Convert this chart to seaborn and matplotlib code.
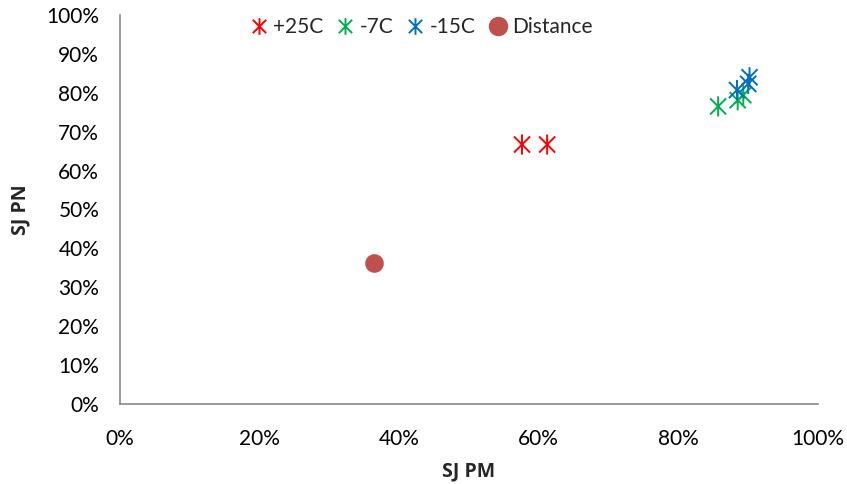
import matplotlib
matplotlib.use("Agg")
import matplotlib.pyplot as plt
import seaborn as sns
import pandas as pd
from matplotlib.path import Path
from matplotlib.lines import Line2D
from matplotlib.ticker import PercentFormatter, MultipleLocator

# values (fractions)
warm_pm = [0.576, 0.612]
warm_pn = [0.667, 0.667]
cold7_pm = [0.857, 0.885, 0.893]
cold7_pn = [0.765, 0.781, 0.794]
cold15_pm = [0.884, 0.900, 0.902]
cold15_pn = [0.807, 0.823, 0.840]
dist_pm = [0.364]
dist_pn = [0.362]

series = [
    ("+25C", warm_pm, warm_pn, "#FF0000"),
    ("-7C", cold7_pm, cold7_pn, "#00B050"),
    ("-15C", cold15_pm, cold15_pn, "#0070C0"),
]
dist_color = "#C0504D"

# excel-like star: an x with a vertical bar through it
star = Path(
    [(-1, -1), (1, 1), (-1, 1), (1, -1), (0, -1.25), (0, 1.25)],
    [Path.MOVETO, Path.LINETO, Path.MOVETO, Path.LINETO, Path.MOVETO, Path.LINETO],
)

sns.set_style("white")
plt.rcParams["font.family"] = ["Lato", "DejaVu Sans"]

fig, ax = plt.subplots(figsize=(8.47, 4.84), dpi=100)
fig.subplots_adjust(left=0.1417, right=0.9657, bottom=0.1653, top=0.969)

for name, xs, ys, c in series:
    df = pd.DataFrame({"pm": xs, "pn": ys})
    sns.scatterplot(data=df, x="pm", y="pn", marker=star, s=210, color=c,
                    facecolor="none", edgecolor=c, linewidth=1.4, ax=ax, zorder=3)

df_dist = pd.DataFrame({"pm": dist_pm, "pn": dist_pn})
sns.scatterplot(data=df_dist, x="pm", y="pn", marker="o", s=180, color=dist_color,
                edgecolor=dist_color, linewidth=0, ax=ax, zorder=3)

ax.set_xlim(0, 1)
ax.set_ylim(0, 1)
ax.xaxis.set_major_locator(MultipleLocator(0.2))
ax.yaxis.set_major_locator(MultipleLocator(0.1))
ax.xaxis.set_major_formatter(PercentFormatter(1.0, decimals=0))
ax.yaxis.set_major_formatter(PercentFormatter(1.0, decimals=0))

for side in ["top", "right"]:
    ax.spines[side].set_visible(False)
for side in ["left", "bottom"]:
    ax.spines[side].set_color("#898989")
    ax.spines[side].set_linewidth(1.2)
ax.tick_params(axis="both", direction="out", length=6, width=1.2, color="#898989",
               labelsize=15, labelcolor="black")
ax.tick_params(axis="y", pad=9)
ax.tick_params(axis="x", pad=12)

ax.set_xlabel("SJ PM", fontsize=14, fontweight="bold", family="Open Sans", labelpad=9)
ax.set_ylabel("SJ PN", fontsize=14, fontweight="bold", family="Open Sans", labelpad=11)

handles = [Line2D([], [], linestyle="none", marker=star, markersize=12,
                  markerfacecolor="none", markeredgecolor=c, markeredgewidth=1.4)
           for _, _, _, c in series]
handles.append(Line2D([], [], linestyle="none", marker="o", markersize=13,
                      markerfacecolor=dist_color, markeredgecolor=dist_color))
labels = [s[0] for s in series] + ["Distance"]
ax.legend(handles, labels, loc="center", bbox_to_anchor=(0.432, 0.968), ncol=4,
          frameon=False, fontsize=15, handlelength=0.8, handletextpad=0.3,
          columnspacing=0.65, borderaxespad=0)

fig.savefig("out.png", dpi=100)
